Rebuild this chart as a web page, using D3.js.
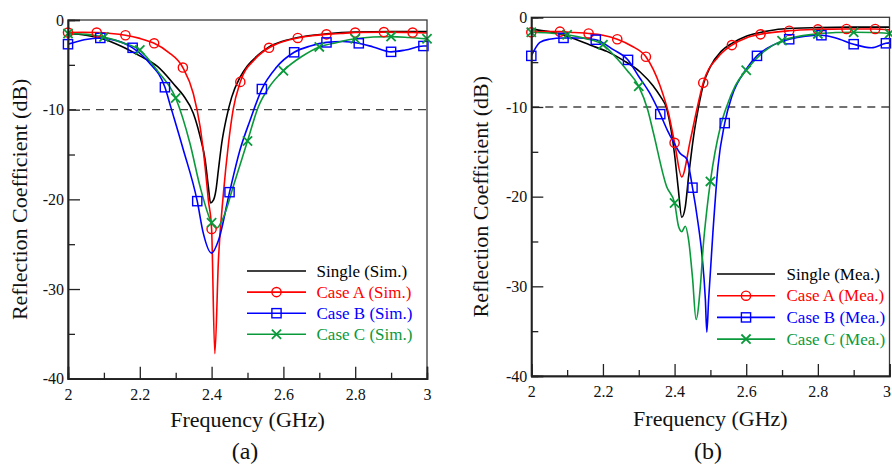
<!DOCTYPE html>
<html><head><meta charset="utf-8">
<script src="https://cdn.jsdelivr.net/npm/d3@7"></script>
<style>
html,body{margin:0;padding:0;background:#fff;}
svg{display:block;font-family:"Liberation Serif","Times New Roman",serif;}
</style></head>
<body>
<svg id="chart" width="892" height="466"></svg>
<script>
// ---------- data ----------
const freqTicks = [2, 2.2, 2.4, 2.6, 2.8, 3];
const freqMinorTicks = [2.1, 2.3, 2.5, 2.7, 2.9];
const dbTicks = [0, -10, -20, -30, -40];
const dbMinorTicks = [-5, -15, -25, -35];
const thresholdDb = -10;
const panelLabels = ["(a)", "(b)"];
const xTitle = "Frequency (GHz)";
const yTitle = "Reflection Coefficient (dB)";
const simLegend = ["Single (Sim.)", "Case A (Sim.)", "Case B (Sim.)", "Case C (Sim.)"];
const meaLegend = ["Single (Mea.)", "Case A (Mea.)", "Case B (Mea.)", "Case C (Mea.)"];

const markersA = [2.00, 2.08, 2.16, 2.24, 2.32, 2.40, 2.48, 2.56, 2.64, 2.72, 2.80, 2.88, 2.96];
const markersB = [2.00, 2.09, 2.18, 2.27, 2.36, 2.45, 2.54, 2.63, 2.72, 2.81, 2.90, 2.99];
const markersC = [2.0, 2.1, 2.2, 2.3, 2.4, 2.5, 2.6, 2.7, 2.8, 2.9, 3.0];

const simSingle = [[2.00,-1.5],[2.05,-1.7],[2.10,-2.15],[2.15,-2.95],[2.20,-4.0],[2.25,-5.2],[2.30,-7.4],[2.321,-8.4],[2.349,-10.4],[2.368,-13.0],[2.382,-15.6],[2.391,-18.6],[2.397,-20.4],[2.405,-20.1],[2.412,-19.0],[2.419,-16.7],[2.428,-13.8],[2.442,-10.8],[2.456,-8.6],[2.479,-6.4],[2.50,-5.1],[2.53,-3.9],[2.56,-3.0],[2.60,-2.35],[2.64,-1.95],[2.72,-1.55],[2.80,-1.35],[2.90,-1.3],[3.00,-1.3]];
const simCaseA = [[2.00,-1.4],[2.04,-1.38],[2.08,-1.4],[2.12,-1.5],[2.16,-1.7],[2.20,-2.05],[2.24,-2.6],[2.28,-3.6],[2.32,-5.3],[2.349,-8.2],[2.368,-11.9],[2.382,-16.4],[2.391,-20.1],[2.40,-23.3],[2.409,-37.2],[2.419,-26.8],[2.433,-19.3],[2.447,-13.8],[2.46,-10.0],[2.48,-6.9],[2.52,-4.4],[2.56,-3.1],[2.60,-2.4],[2.64,-2.0],[2.68,-1.75],[2.72,-1.6],[2.76,-1.5],[2.80,-1.4],[2.88,-1.35],[2.96,-1.4],[3.00,-1.45]];
const simCaseB = [[2.00,-2.7],[2.045,-2.2],[2.09,-2.0],[2.135,-2.3],[2.18,-3.1],[2.225,-4.7],[2.27,-7.5],[2.287,-9.8],[2.32,-14.3],[2.36,-20.2],[2.377,-23.8],[2.40,-26.0],[2.419,-24.6],[2.45,-19.2],[2.479,-14.5],[2.507,-11.2],[2.54,-7.7],[2.58,-5.3],[2.63,-3.6],[2.675,-2.9],[2.72,-2.5],[2.765,-2.4],[2.81,-2.6],[2.85,-3.0],[2.90,-3.55],[2.94,-3.35],[2.99,-2.9],[3.00,-2.9]];
const simCaseC = [[2.00,-1.5],[2.05,-1.6],[2.10,-1.9],[2.15,-2.5],[2.20,-3.35],[2.25,-5.7],[2.30,-8.7],[2.34,-13.8],[2.368,-18.6],[2.40,-22.6],[2.414,-23.2],[2.433,-22.0],[2.46,-18.6],[2.50,-13.5],[2.53,-9.7],[2.56,-7.5],[2.60,-5.65],[2.65,-4.1],[2.70,-3.0],[2.75,-2.5],[2.80,-2.1],[2.85,-1.9],[2.90,-1.85],[2.95,-1.95],[3.00,-2.1]];

const meaSingle = [[2.00,-1.35],[2.05,-1.6],[2.08,-1.85],[2.12,-2.4],[2.164,-3.1],[2.211,-3.8],[2.257,-4.8],[2.304,-6.1],[2.341,-7.7],[2.36,-8.8],[2.378,-10.2],[2.39,-12.5],[2.40,-15.3],[2.41,-19.0],[2.42,-22.3],[2.43,-21.1],[2.439,-17.8],[2.453,-13.3],[2.467,-10.0],[2.481,-7.4],[2.50,-5.5],[2.53,-3.8],[2.56,-2.9],[2.60,-2.1],[2.65,-1.6],[2.70,-1.3],[2.80,-1.15],[2.90,-1.1],[3.00,-1.1]];
const meaCaseA = [[2.00,-1.67],[2.04,-1.6],[2.08,-1.6],[2.12,-1.7],[2.16,-1.8],[2.20,-2.0],[2.24,-2.45],[2.28,-3.2],[2.32,-4.4],[2.36,-7.7],[2.383,-10.7],[2.40,-14.0],[2.42,-17.8],[2.444,-13.7],[2.462,-10.3],[2.48,-7.3],[2.52,-4.5],[2.56,-3.1],[2.60,-2.3],[2.64,-1.9],[2.72,-1.5],[2.80,-1.35],[2.88,-1.3],[2.96,-1.3],[3.00,-1.4]];
const meaCaseB = [[2.00,-4.3],[2.024,-2.8],[2.05,-2.45],[2.09,-2.3],[2.135,-2.3],[2.18,-2.5],[2.229,-3.6],[2.27,-4.75],[2.30,-6.6],[2.33,-8.4],[2.36,-10.8],[2.38,-12.6],[2.397,-13.9],[2.416,-15.2],[2.434,-15.8],[2.45,-19.0],[2.465,-22.8],[2.476,-26.3],[2.486,-31.5],[2.49,-35.1],[2.495,-31.5],[2.507,-24.0],[2.521,-16.7],[2.54,-11.8],[2.56,-8.8],[2.60,-5.8],[2.63,-4.3],[2.675,-3.1],[2.72,-2.45],[2.765,-2.1],[2.81,-2.0],[2.85,-2.3],[2.90,-3.0],[2.95,-3.4],[2.99,-2.9],[3.00,-2.85]];
const meaCaseC = [[2.00,-1.67],[2.05,-1.75],[2.10,-1.95],[2.15,-2.35],[2.20,-3.05],[2.239,-4.6],[2.267,-5.9],[2.30,-7.7],[2.325,-10.3],[2.341,-12.9],[2.378,-18.9],[2.40,-20.7],[2.411,-23.3],[2.42,-23.9],[2.43,-23.3],[2.439,-24.8],[2.45,-29.0],[2.46,-33.7],[2.472,-30.0],[2.48,-25.5],[2.49,-21.5],[2.50,-18.3],[2.528,-12.2],[2.545,-10.0],[2.57,-7.6],[2.60,-5.9],[2.65,-3.8],[2.70,-2.6],[2.75,-2.1],[2.80,-1.85],[2.85,-1.7],[2.90,-1.67],[2.95,-1.7],[3.00,-1.8]];

// ---------- styles ----------
const colors = ["#000000", "#ff0000", "#0000ff", "#0a9a3c"];
const symbols = [null, "circle", "square", "cross"];
const markerSets = [null, markersA, markersB, markersC];

const svg = d3.select("#chart");

function drawMarker(g, type, cx, cy, color) {
  if (type === "circle") {
    g.append("circle").attr("cx", cx).attr("cy", cy).attr("r", 4.6)
      .attr("fill", "none").attr("stroke", color).attr("stroke-width", 1.4);
  } else if (type === "square") {
    g.append("rect").attr("x", cx - 4.6).attr("y", cy - 4.6).attr("width", 9.2).attr("height", 9.2)
      .attr("fill", "none").attr("stroke", color).attr("stroke-width", 1.4);
  } else if (type === "cross") {
    const s = 4.6;
    g.append("path").attr("d", `M${cx-s},${cy-s}L${cx+s},${cy+s}M${cx-s},${cy+s}L${cx+s},${cy-s}`)
      .attr("stroke", color).attr("stroke-width", 1.8).attr("fill", "none");
  }
}

function panel(cfg) {
  const x = d3.scaleLinear().domain([2, 3]).range([cfg.x0, cfg.x1]);
  const y = d3.scaleLinear().domain([-40, 0]).range([cfg.y1, cfg.y0]);
  const g = svg.append("g");

  const cid = "clip" + cfg.id;
  svg.append("clipPath").attr("id", cid).append("rect")
    .attr("x", cfg.x0).attr("y", cfg.y0).attr("width", cfg.x1 - cfg.x0).attr("height", cfg.y1 - cfg.y0);

  g.append("line").attr("x1", x(2)).attr("x2", x(3)).attr("y1", y(thresholdDb)).attr("y2", y(thresholdDb))
    .attr("stroke", "#444").attr("stroke-width", 1.3).attr("stroke-dasharray", "8,6");

  const line = d3.line().x(d => x(d[0])).y(d => y(d[1])).curve(d3.curveMonotoneX);
  const plot = g.append("g").attr("clip-path", `url(#${cid})`);
  cfg.series.forEach((s, i) => {
    plot.append("path").datum(s).attr("d", line).attr("fill", "none")
      .attr("stroke", colors[i]).attr("stroke-width", 1.6);
  });
  cfg.series.forEach((s, i) => {
    if (!markerSets[i]) return;
    const mg = g.append("g");
    s.filter(p => markerSets[i].some(m => Math.abs(m - p[0]) < 1e-6))
      .forEach(p => drawMarker(mg, symbols[i], x(p[0]), y(p[1]), colors[i]));
  });

  g.append("rect").attr("x", cfg.x0).attr("y", cfg.y0).attr("width", cfg.x1 - cfg.x0).attr("height", cfg.y1 - cfg.y0)
    .attr("fill", "none").attr("stroke", "#3a3a3a").attr("stroke-width", 1.3);

  const xa = g.append("g").attr("transform", `translate(0,${cfg.y1})`)
    .call(d3.axisBottom(x).tickValues(freqTicks).tickSize(-12).tickPadding(10).tickFormat(d => String(d)));
  g.append("g").attr("transform", `translate(0,${cfg.y1})`)
    .call(d3.axisBottom(x).tickValues(freqMinorTicks).tickSize(-6).tickFormat(""));
  g.append("g").attr("transform", `translate(${cfg.x0},0)`)
    .call(d3.axisLeft(y).tickValues(dbTicks).tickSize(-12).tickPadding(4).tickFormat(d => String(d)));
  g.append("g").attr("transform", `translate(${cfg.x0},0)`)
    .call(d3.axisLeft(y).tickValues(dbMinorTicks).tickSize(-7).tickFormat(""));
  g.selectAll(".domain").attr("stroke", "#222").attr("stroke-width", 1.5);
  g.selectAll(".tick line").attr("stroke", "#222").attr("stroke-width", 1.3);
  g.selectAll(".tick text").attr("font-family", "Liberation Serif, serif").attr("font-size", 16).attr("fill", "#111");
  // keep the last x label inside the picture
  if (cfg.lastLabelShift) {
    xa.selectAll(".tick text").filter(d => d === 3).attr("dx", cfg.lastLabelShift);
  }

  g.append("text").attr("x", (cfg.x0 + cfg.x1) / 2).attr("y", cfg.xTitleY).attr("text-anchor", "middle")
    .attr("font-size", 22).attr("fill", "#111").text(xTitle);
  g.append("text").attr("transform", `translate(${cfg.yTitleX},${(cfg.y0 + cfg.y1) / 2}) rotate(-90)`)
    .attr("text-anchor", "middle").attr("font-size", 22).attr("fill", "#111").text(yTitle);
  g.append("text").attr("x", cfg.labelX).attr("y", 459).attr("text-anchor", "middle")
    .attr("font-size", 24).attr("fill", "#111").text(cfg.label);

  const lg = g.append("g");
  cfg.legend.forEach((t, i) => {
    const ly = cfg.legY0 + i * cfg.legDy;
    lg.append("line").attr("x1", cfg.legX0).attr("x2", cfg.legX1).attr("y1", ly).attr("y2", ly)
      .attr("stroke", colors[i]).attr("stroke-width", 1.6);
    if (symbols[i]) drawMarker(lg, symbols[i], (cfg.legX0 + cfg.legX1) / 2, ly, colors[i]);
    lg.append("text").attr("x", cfg.legText).attr("y", ly).attr("dy", "0.33em")
      .attr("font-size", 17).attr("fill", colors[i]).text(t);
  });
}

panel({id: "a", x0: 68, x1: 427, y0: 20, y1: 378.7, series: [simSingle, simCaseA, simCaseB, simCaseC],
  legend: simLegend, legX0: 247, legX1: 306, legText: 316.5, legY0: 271, legDy: 21.1,
  xTitleY: 427, yTitleX: 27, label: panelLabels[0], labelX: 245});
panel({id: "b", x0: 531.3, x1: 889.5, y0: 17.3, y1: 376, series: [meaSingle, meaCaseA, meaCaseB, meaCaseC],
  legend: meaLegend, legX0: 717, legX1: 775, legText: 786.5, legY0: 274, legDy: 21.7,
  xTitleY: 426, yTitleX: 487.5, label: panelLabels[1], labelX: 708, lastLabelShift: -3});
</script>
</body></html>
